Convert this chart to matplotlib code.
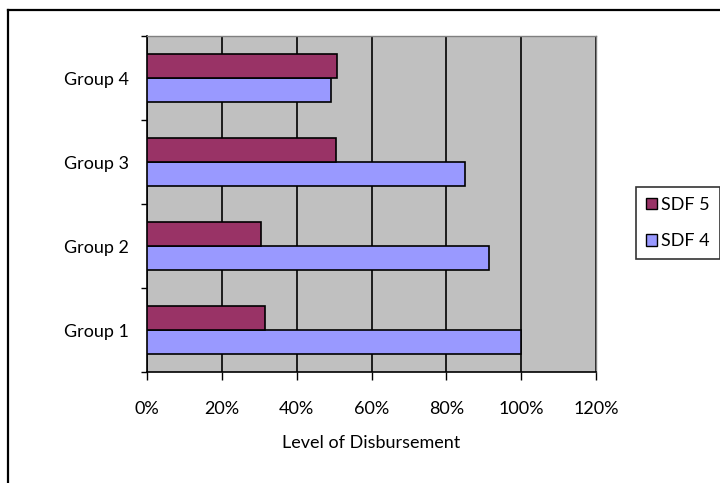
import matplotlib
matplotlib.use("Agg")
import matplotlib.pyplot as plt
from matplotlib.lines import Line2D
from matplotlib.patches import Patch
import numpy as np

categories = ["Group 1", "Group 2", "Group 3", "Group 4"]
sdf5 = [31.6, 30.5, 50.4, 50.8]
sdf4 = [100.0, 91.3, 84.9, 49.2]
x_ticks = [0, 20, 40, 60, 80, 100, 120]
x_tick_labels = ["0%", "20%", "40%", "60%", "80%", "100%", "120%"]

plt.rcParams["font.family"] = ["Lato", "DejaVu Sans"]

W, H = 720, 483
fig = plt.figure(figsize=(W / 100, H / 100), dpi=100)
fig.patch.set_facecolor("white")

# chart frame (top and left edges)
fig.add_artist(Line2D([8 / W, 1.0], [1 - 10 / H, 1 - 10 / H], color="black", lw=1.6,
                      transform=fig.transFigure))
fig.add_artist(Line2D([8 / W, 8 / W], [0.0, 1 - 10 / H], color="black", lw=1.6,
                      transform=fig.transFigure))

left, right, top, bottom = 147, 596, 36, 372
ax = fig.add_axes([left / W, 1 - bottom / H, (right - left) / W, (bottom - top) / H])
ax.set_facecolor("#C0C0C0")

y = np.arange(len(categories))
bh = 0.2857
ax.barh(y - bh / 2, sdf4, height=bh, color="#9999FF", edgecolor="black", lw=1.2,
        label="SDF 4", zorder=3)
ax.barh(y + bh / 2, sdf5, height=bh, color="#993366", edgecolor="black", lw=1.2,
        label="SDF 5", zorder=3)

fs = 13
ax.set_xlim(0, 120)
ax.set_ylim(-0.5, len(categories) - 0.5)
ax.set_xticks(x_ticks)
ax.set_xticklabels(x_tick_labels, fontsize=fs)
ax.set_yticks(y)
ax.set_yticklabels(categories, fontsize=fs)
ax.tick_params(axis="y", which="major", length=0, pad=13)
ax.set_yticks(np.arange(-0.5, len(categories), 1.0), minor=True)
ax.tick_params(axis="y", which="minor", length=4, width=1, direction="out")
ax.tick_params(axis="x", length=6, width=1, direction="out", pad=15)

ax.grid(axis="x", color="black", lw=1.2, zorder=1)
ax.set_axisbelow(True)
for s in ["top", "right"]:
    ax.spines[s].set_color("#808080")
    ax.spines[s].set_linewidth(1.0)
for s in ["left", "bottom"]:
    ax.spines[s].set_color("black")
    ax.spines[s].set_linewidth(1.2)

ax.set_xlabel("Level of Disbursement", fontsize=fs, labelpad=13)

handles = [Patch(facecolor="#993366", edgecolor="black", label="SDF 5"),
           Patch(facecolor="#9999FF", edgecolor="black", label="SDF 4")]
leg = fig.legend(handles=handles, loc="center", bbox_to_anchor=(678 / W, 1 - 223 / H),
                 fontsize=fs, frameon=True, fancybox=False, edgecolor="black",
                 handlelength=0.6, handleheight=0.6, handletextpad=0.25,
                 labelspacing=1.15, borderpad=0.55, borderaxespad=0)
leg.get_frame().set_linewidth(1.2)

fig.savefig("out.png", dpi=100)
